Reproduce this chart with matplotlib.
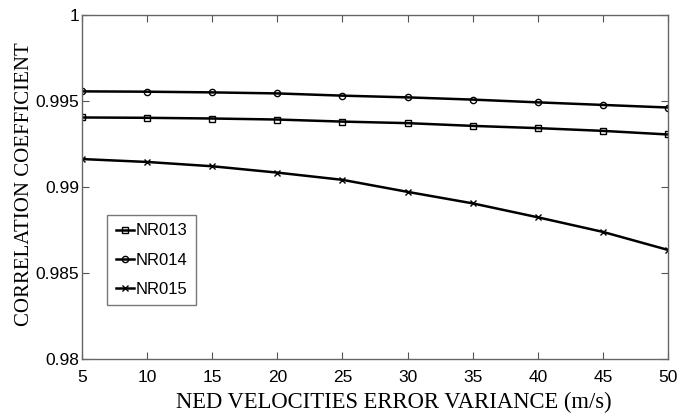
import matplotlib
matplotlib.use("Agg")
import matplotlib.pyplot as plt

x = [5, 10, 15, 20, 25, 30, 35, 40, 45, 50]
nr013 = [0.99406, 0.99404, 0.99400, 0.99394, 0.99382, 0.99373, 0.99357, 0.99344, 0.99328, 0.99307]
nr014 = [0.99558, 0.99556, 0.99552, 0.99546, 0.99533, 0.99523, 0.99510, 0.99494, 0.99479, 0.99464]
nr015 = [0.99164, 0.99147, 0.99122, 0.99085, 0.99043, 0.98973, 0.98906, 0.98825, 0.98740, 0.98635]
series_names = ["NR013", "NR014", "NR015"]
xticks = [5, 10, 15, 20, 25, 30, 35, 40, 45, 50]
yticks = [0.98, 0.985, 0.99, 0.995, 1.0]
ytick_labels = ["0.98", "0.985", "0.99", "0.995", "1"]

fig = plt.figure(figsize=(6.91, 4.18), dpi=100)
ax = fig.add_axes([0.1187, 0.1411, 0.848, 0.822])

ax.plot(x, nr013, color="black", lw=1.8, marker="s", ms=5, mfc="none", mec="black", mew=1, label=series_names[0])
ax.plot(x, nr014, color="black", lw=1.8, marker="o", ms=4.5, mfc="none", mec="black", mew=1, label=series_names[1])
ax.plot(x, nr015, color="black", lw=1.8, marker="x", ms=5, mec="black", mew=1, label=series_names[2])

ax.set_xlim(5, 50)
ax.set_ylim(0.98, 1.0)
ax.set_xticks(xticks)
ax.set_yticks(yticks)
ax.set_yticklabels(ytick_labels)
for lab in ax.get_xticklabels() + ax.get_yticklabels():
    lab.set_fontfamily("Liberation Sans")
    lab.set_fontsize(12.5)
ax.tick_params(direction="in", top=True, right=True, length=5, width=0.8, color="#555555")
ax.tick_params(axis="x", pad=8)
ax.tick_params(axis="y", pad=2)
for s in ax.spines.values():
    s.set_color("#666666")
    s.set_linewidth(1)

ax.set_xlabel("NED VELOCITIES ERROR VARIANCE (m/s)", family="Liberation Serif", fontsize=16.3)
ax.xaxis.set_label_coords(0.532, -0.127, transform=ax.transAxes)
ax.xaxis.label.set_va("center")
ax.set_ylabel("CORRELATION COEFFICIENT", family="Liberation Serif", fontsize=15)
ax.yaxis.set_label_coords(-0.099, 0.51, transform=ax.transAxes)
ax.yaxis.label.set_va("center")

leg = ax.legend(loc="upper left", bbox_to_anchor=(0.043, 0.419), prop=dict(family="Liberation Sans", size=12),
                frameon=True, fancybox=False, handlelength=1.1, handletextpad=0.1, borderpad=0.5,
                labelspacing=0.85, borderaxespad=0)
leg.get_frame().set_edgecolor("#555555")
leg.get_frame().set_linewidth(1)

fig.savefig("out.png", dpi=100)
